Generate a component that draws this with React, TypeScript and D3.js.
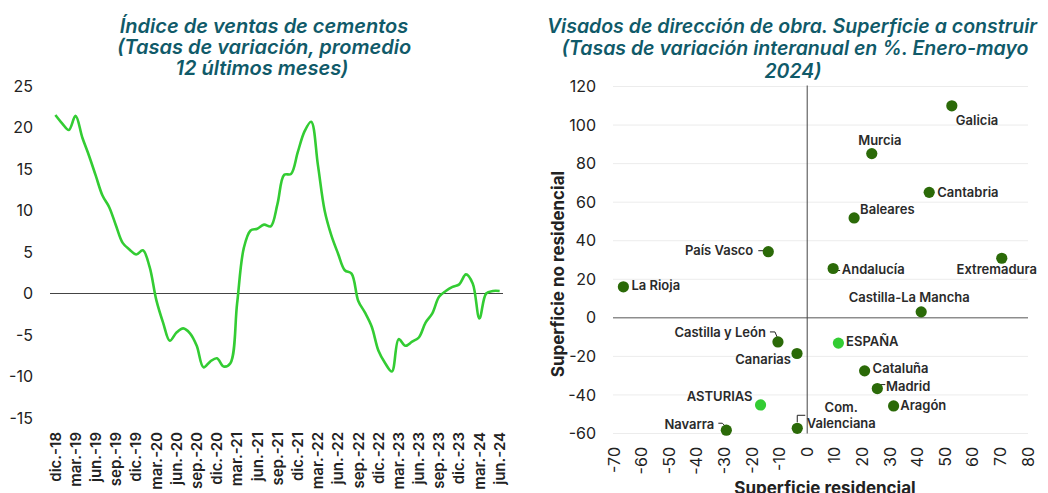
import React from 'react';
import * as d3 from 'd3';

// Left chart: cement sales index, monthly dic.-18 .. jun.-24
const monthAbbr = ['ene.', 'feb.', 'mar.', 'abr.', 'may.', 'jun.', 'jul.', 'ago.', 'sep.', 'oct.', 'nov.', 'dic.'];
const months: string[] = ['dic.-18'];
for (let y = 19; y <= 24; y++) {
  for (let m = 0; m < 12; m++) {
    if (y === 24 && m > 5) break;
    months.push(`${monthAbbr[m]}-${y}`);
  }
}

const cementValues = [
  21.5, 20.5, 19.7, 21.4, 18.8, 16.6, 14.2, 11.8, 10.4, 8.2,
  6.1, 5.3, 4.7, 5.2, 3.2, -0.8, -3.5, -5.7, -4.7, -4.2,
  -4.8, -6.3, -8.9, -8.2, -7.8, -8.8, -8.4, -1.2, 5.5, 7.6,
  7.8, 8.3, 8.1, 10.8, 14.3, 14.4, 17.0, 19.5, 20.7, 15.5,
  10.0, 7.0, 4.8, 2.8, 2.4, -0.9, -2.3, -4.0, -6.9, -8.4,
  -9.4, -5.5, -6.3, -5.8, -5.3, -3.5, -2.4, -0.4, 0.3, 0.8,
  1.1, 2.3, 1.2, -3.0, 0.0, 0.3, 0.3,
];

const leftTicks = [25, 20, 15, 10, 5, 0, -5, -10, -15];

// Right chart: visados, residential vs non-residential
const regions = [
  'Galicia', 'Murcia', 'Cantabria', 'Baleares', 'País Vasco', 'Extremadura', 'Andalucía',
  'La Rioja', 'Castilla-La Mancha', 'Castilla y León', 'ESPAÑA', 'Canarias', 'Cataluña',
  'Madrid', 'Aragón', 'ASTURIAS', 'Navarra', 'Com. Valenciana',
];
const residencial = [52.4, 23.4, 44.2, 17.0, -14.1, 70.5, 9.4, -66.6, 41.3, -10.6, 11.3, -3.7, 20.8, 25.4, 31.3, -16.9, -29.3, -3.6];
const noResidencial = [110, 85.2, 65.1, 51.8, 34.3, 30.9, 25.6, 16.1, 3.1, -12.5, -13.1, -18.5, -27.5, -36.7, -45.7, -45.2, -58.3, -57.3];
const highlighted = ['ESPAÑA', 'ASTURIAS'];

const xTicksRight = d3.range(-70, 81, 10);
const yTicksRight = [120, 100, 80, 60, 40, 20, 0, -20, -40, -60];

// label placement relative to each point
type Lab = { dx: number; dy: number; anchor: string; lines?: string[]; leader?: [number, number][] };
const labelLayout: Record<string, Lab> = {
  'Galicia': { dx: 4, dy: 19, anchor: 'start' },
  'Murcia': { dx: 8, dy: -9, anchor: 'middle' },
  'Cantabria': { dx: 8, dy: 5, anchor: 'start' },
  'Baleares': { dx: 6, dy: -4, anchor: 'start' },
  'País Vasco': { dx: -15, dy: 3.5, anchor: 'end', leader: [[-10, -1], [-2, -1]] },
  'Extremadura': { dx: -5, dy: 16, anchor: 'middle' },
  'Andalucía': { dx: 8.7, dy: 6, anchor: 'start', leader: [[0, 2], [7, 2]] },
  'La Rioja': { dx: 8, dy: 3.5, anchor: 'start' },
  'Castilla-La Mancha': { dx: -12, dy: -10, anchor: 'middle' },
  'Castilla y León': { dx: -12, dy: -5, anchor: 'end', leader: [[-8, -10], [-3, -10], [0, -3]] },
  'ESPAÑA': { dx: 7.7, dy: 2.7, anchor: 'start' },
  'Canarias': { dx: -6, dy: 10.7, anchor: 'end' },
  'Cataluña': { dx: 8, dy: 2, anchor: 'start' },
  'Madrid': { dx: 8.7, dy: 2.4, anchor: 'start', leader: [[1, -1], [3, -4], [8, -4]] },
  'Aragón': { dx: 6.7, dy: 4.3, anchor: 'start' },
  'ASTURIAS': { dx: -8, dy: -4, anchor: 'end' },
  'Navarra': { dx: -12, dy: -1.7, anchor: 'end', leader: [[-8, -7], [-4, -7], [0, -3]] },
  'Com. Valenciana': { dx: 44, dy: -0.6, anchor: 'middle', lines: ['Com.', 'Valenciana'], leader: [[0, -6], [0, -13], [8, -13]] },
};

const FONT = 'Inter, "Noto Sans", sans-serif';
const TITLE = '#105a69';
const DARK_GREEN = '#2b6a08';
const LIGHT_GREEN = '#33cc33';

const App: React.FC = () => {
  const width = 1048;
  const height = 493;

  // left scales
  const xL = d3.scalePoint<string>().domain(months).range([52, 503]).padding(0.5);
  const yL = d3.scaleLinear().domain([-15, 25]).range([418, 86]);
  const line = d3.line<number>()
    .x((_, i) => xL(months[i]) as number)
    .y(d => yL(d))
    .curve(d3.curveCatmullRom.alpha(0.5));

  // right scales
  const xR = d3.scaleLinear().domain([-70, 80]).range([614, 1028]);
  const yR = d3.scaleLinear().domain([-60, 120]).range([433.5, 86.5]);

  return (
    <svg width={width} height={height} style={{ position: 'absolute', left: 0, top: 0, background: '#fff' }} fontFamily={FONT}>
      {/* ---------- left chart ---------- */}
      <g fill={TITLE} fontStyle="italic" fontWeight={600} fontSize={20} textAnchor="middle">
        <text x={264} y={33}>Índice de ventas de cementos</text>
        <text x={264} y={54}>(Tasas de variación, promedio</text>
        <text x={262} y={75}>12 últimos meses)</text>
      </g>
      {leftTicks.map(t => (
        <text key={t} x={33} y={yL(t)} dy="0.35em" textAnchor="end" fontSize={16} fill="#222">{t}</text>
      ))}
      <line x1={50} x2={503} y1={yL(0)} y2={yL(0)} stroke="#444" strokeWidth={1} />
      <path d={line(cementValues) || ''} fill="none" stroke={LIGHT_GREEN} strokeWidth={2.6} />
      {months.map((m, i) => i % 3 === 0 ? (
        <text key={m} transform={`translate(${xL(m)},432) rotate(-90)`} textAnchor="end" dy="0.35em"
          fontSize={15} fontWeight={600} fill="#222">{m}</text>
      ) : null)}

      {/* ---------- right chart ---------- */}
      <g fill={TITLE} fontStyle="italic" fontWeight={600} fontSize={19.5} textAnchor="middle">
        <text x={792} y={33}>Visados de dirección de obra. Superficie a construir</text>
        <text x={795} y={55}>(Tasas de variación interanual en %. Enero-mayo</text>
        <text x={793} y={78}>2024)</text>
      </g>
      {yTicksRight.map(t => (
        <g key={t}>
          <line x1={613} x2={1028} y1={yR(t)} y2={yR(t)} stroke={t === 0 ? '#555' : '#ececec'} strokeWidth={1} />
          <text x={596} y={yR(t)} dy="0.35em" textAnchor="end" fontSize={16} fill="#222">{t}</text>
        </g>
      ))}
      <line x1={xR(0)} x2={xR(0)} y1={yR(120) - 1} y2={yR(-60)} stroke="#444" strokeWidth={1} />
      {xTicksRight.map(t => (
        <text key={t} transform={`translate(${xR(t)},447) rotate(-90)`} textAnchor="end" dy="0.35em"
          fontSize={16} fill="#222">{t}</text>
      ))}
      <text x={825} y={494} textAnchor="middle" fontSize={17} fontWeight={700} fill="#222">Superficie residencial</text>
      <text transform="translate(558,274) rotate(-90)" textAnchor="middle" dy="0.35em" fontSize={17} fontWeight={700} fill="#222">
        Superficie no residencial
      </text>

      {regions.map((r, i) => {
        const cx = xR(residencial[i]);
        const cy = yR(noResidencial[i]);
        const lab = labelLayout[r];
        return (
          <g key={r}>
            {lab.leader && (
              <polyline points={lab.leader.map(p => `${cx + p[0]},${cy + p[1]}`).join(' ')}
                fill="none" stroke="#222" strokeWidth={1} />
            )}
            <circle cx={cx} cy={cy} r={5.6} fill={highlighted.includes(r) ? LIGHT_GREEN : DARK_GREEN} />
            {(lab.lines || [r]).map((t, k, arr) => (
              <text key={t} x={cx + lab.dx} y={cy + lab.dy + (k - (arr.length - 1)) * 16}
                textAnchor={lab.anchor} fontSize={13} fontWeight={600} fill="#2a2a2a">{t}</text>
            ))}
          </g>
        );
      })}
    </svg>
  );
};

export default App;
